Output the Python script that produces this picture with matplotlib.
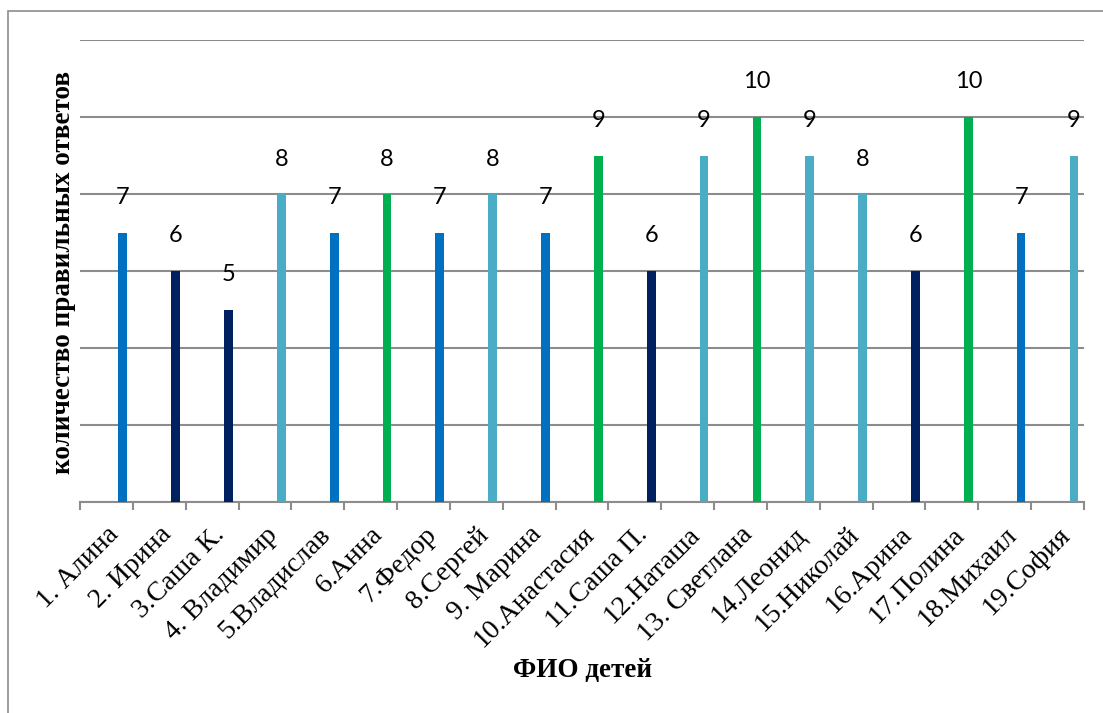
import numpy as np
import matplotlib.pyplot as plt
from matplotlib.patches import Rectangle

# Данные
names = ["1. Алина", "2. Ирина", "3.Саша К.", "4. Владимир", "5.Владислав",
         "6.Анна", "7.Федор", "8.Сергей", "9. Марина", "10.Анастасия",
         "11.Саша П.", "12.Наташа", "13. Светлана", "14.Леонид", "15.Николай",
         "16.Арина", "17.Полина", "18.Михаил", "19.София"]
scores = [7, 6, 5, 8, 7, 8, 7, 8, 7, 9, 6, 9, 10, 9, 8, 6, 10, 7, 9]
bar_colors = ["#0070C0", "#002060", "#002060", "#4BACC6", "#0070C0",
              "#00B050", "#0070C0", "#4BACC6", "#0070C0", "#00B050",
              "#002060", "#4BACC6", "#00B050", "#4BACC6", "#4BACC6",
              "#002060", "#00B050", "#0070C0", "#4BACC6"]

W, H = 1103, 713
fig = plt.figure(figsize=(W / 100, H / 100), dpi=100)
ax = fig.add_axes([80 / W, 1 - 502 / H, (1084 - 80) / W, (502 - 40) / H])

x = np.arange(len(names))
ax.bar(x + 0.31, scores, width=0.165, color=bar_colors, zorder=3)

for xi, v in zip(x, scores):
    ax.annotate(str(v), (xi + 0.31, v), xytext=(0, 35), textcoords="offset pixels",
                ha="center", va="center", fontsize=17, family="Lato", zorder=4)

ax.set_xlim(-0.5, len(names) - 0.5)
ax.set_ylim(0, 12)
ax.set_yticks(np.arange(0, 13, 2))
ax.set_yticklabels([])
ax.tick_params(axis="y", length=0)
ax.grid(axis="y", color="#8c8c8c", linewidth=1.5, zorder=1)

# деления между категориями, подписи по центру
ax.set_xticks(np.arange(-0.5, len(names), 1.0))
ax.set_xticklabels([])
ax.set_xticks(x, minor=True)
ax.set_xticklabels(names, minor=True, rotation=45, ha="right", va="top",
                   rotation_mode="anchor", family="Liberation Serif", fontsize=20)
ax.tick_params(axis="x", which="major", length=6, width=1.5, color="#8c8c8c")
ax.tick_params(axis="x", which="minor", length=0, pad=14.5)

for s in ["top", "right", "left"]:
    ax.spines[s].set_visible(False)
ax.spines["bottom"].set_color("#8c8c8c")
ax.spines["bottom"].set_linewidth(1.5)
ax.spines["bottom"].set_zorder(2)

fig.text(63 / W, 1 - 272 / H, "количество правильных ответов", rotation=90,
         ha="center", va="center", family="Liberation Serif", fontweight="bold",
         fontsize=19.5)
fig.text(583 / W, 1 - 670 / H, "ФИО детей", ha="center", va="center",
         family="Liberation Serif", fontweight="bold", fontsize=19.5)

# рамка диаграммы
fig.patches.append(Rectangle((8 / W, -0.1), 2, 1.1 - 11 / H, transform=fig.transFigure,
                             fill=False, edgecolor="#8c8c8c", linewidth=1.2))

fig.savefig("out.png", dpi=100)
